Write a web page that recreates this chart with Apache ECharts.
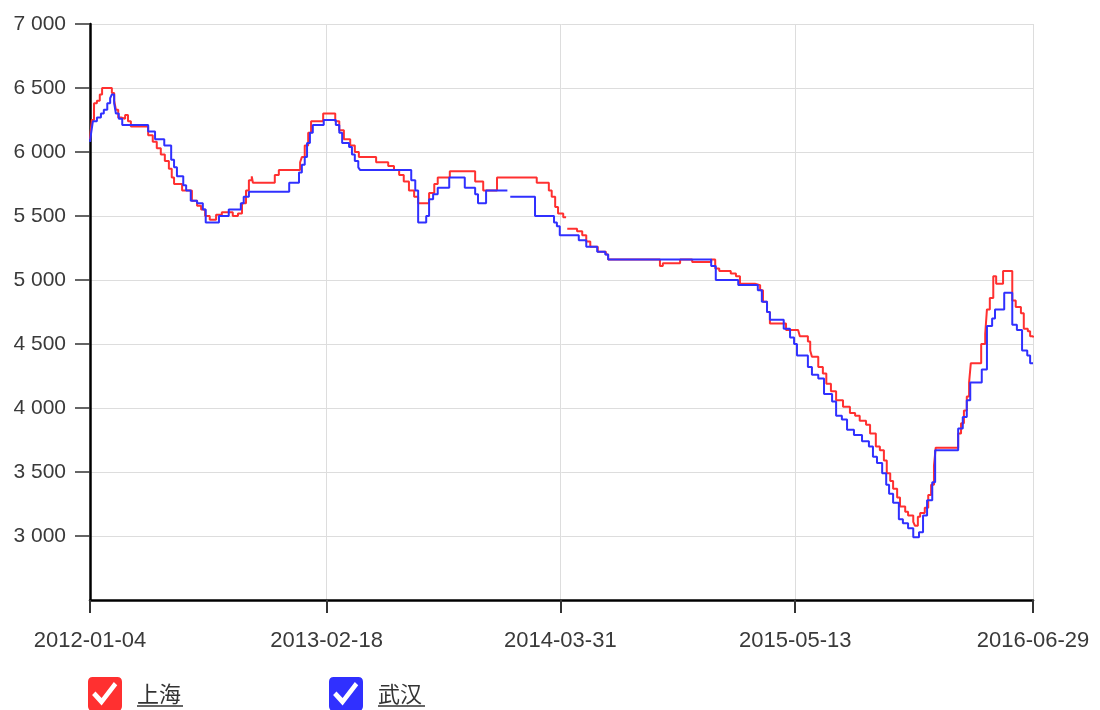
<!DOCTYPE html>
<html>
<head>
<meta charset="utf-8">
<script src="https://cdn.jsdelivr.net/npm/echarts@6/dist/echarts.min.js"></script>
<style>html,body{margin:0;padding:0;background:#fff}#chart{width:1100px;height:710px}</style>
</head>
<body>
<div id="chart"></div>
<script>
// ---- data ----
const startDate = '2012-01-04';
const endDate = '2016-06-29';
const xLabelDates = ['2012-01-04', '2013-02-18', '2014-03-31', '2015-05-13', '2016-06-29'];
const yTickValues = [3000, 3500, 4000, 4500, 5000, 5500, 6000, 6500, 7000];
const seriesNames = ['上海', '武汉'];

// days since startDate at which the price level changes, and the new level
const shDays = [0,3,7,12,17,21,38,42,45,49,54,61,66,71,101,109,116,123,130,137,142,146,160,177,186,193,200,208,219,229,248,257,264,271,276,281,283,321,328,365,368,373,379,384,405,426,433,441,452,460,467,497,518,528,537,545,554,563,570,589,598,604,625,669,683,707,776,797,802,808,813,822,825,827,829,846,855,862,869,882,896,900,990,995,1025,1046,1079,1086,1093,1113,1122,1129,1155,1164,1169,1176,1181,1209,1230,1233,1247,1251,1254,1265,1273,1279,1287,1296,1308,1320,1329,1337,1348,1355,1365,1372,1379,1384,1390,1395,1402,1407,1416,1421,1430,1433,1438,1442,1450,1456,1461,1466,1469,1508,1513,1518,1523,1527,1530,1548,1555,1558,1563,1569,1574,1586,1602,1608,1617,1622,1629,1633,1638];
const shPrices = [6100,6250,6380,6400,6450,6500,6460,6400,6330,6270,6260,6290,6240,6200,6130,6080,6030,5980,5930,5870,5800,5750,5700,5620,5580,5550,5500,5470,5510,5530,5500,5520,5600,5700,5780,5810,5760,5820,5860,5920,5960,6050,6150,6240,6300,6240,6170,6100,6050,6000,5960,5920,5890,5860,5820,5770,5700,5650,5600,5680,5750,5800,5850,5770,5700,5800,5760,5700,5650,5570,5520,5490,5490,null,5400,5380,5350,5300,5260,5220,5200,5160,5110,5130,5160,5140,5160,5090,5070,5050,5030,4970,4960,4920,4830,4750,4660,4610,4600,4560,4520,4450,4400,4320,4270,4190,4130,4060,4010,3960,3940,3900,3870,3800,3700,3670,3590,3490,3430,3370,3300,3230,3190,3160,3110,3080,3150,3180,3220,3320,3400,3550,3690,3800,3880,3980,4090,4200,4350,4500,4580,4770,4860,5030,4970,5070,4840,4790,4740,4620,4600,4560,4550];

const whDays = [0,2,5,12,19,24,30,35,38,42,45,50,56,101,113,129,141,146,151,162,167,175,186,196,201,224,241,262,267,276,346,363,368,373,377,382,387,406,427,433,438,450,455,460,466,469,558,565,570,584,589,596,604,624,651,669,674,688,723,725,730,773,806,811,816,849,862,881,895,900,1079,1087,1126,1160,1167,1176,1181,1205,1216,1223,1228,1247,1254,1265,1275,1289,1296,1306,1315,1327,1341,1353,1360,1367,1376,1383,1388,1395,1405,1412,1421,1430,1440,1447,1454,1463,1468,1508,1516,1523,1529,1549,1558,1567,1572,1588,1602,1610,1619,1628,1633,1638];
const whPrices = [6080,6150,6240,6270,6300,6330,6380,6420,6450,6380,6300,6260,6210,6160,6100,6050,5940,5880,5810,5740,5700,5620,5600,5550,5450,5500,5550,5600,5650,5690,5760,5840,5900,5960,6070,6150,6210,6250,6210,6150,6070,6040,5980,5930,5880,5860,5780,5700,5450,5500,5630,5670,5720,5800,5720,5670,5600,5700,5700,null,5650,5500,5450,5420,5350,5310,5260,5220,5200,5160,5110,5000,4960,4920,4830,4750,4690,4620,4550,4500,4410,4320,4260,4230,4110,4050,3940,3910,3830,3790,3740,3700,3620,3570,3490,3400,3330,3260,3130,3100,3060,2990,3030,3160,3280,3420,3670,3840,3930,4060,4200,4300,4640,4700,4770,4900,4650,4610,4450,4410,4350,4350];

// ---- helpers ----
const DAY = 86400000;
function parseDate(s) { const p = s.split('-').map(Number); return Date.UTC(p[0], p[1] - 1, p[2]); }
function pad(n) { return (n < 10 ? '0' : '') + n; }
const t0 = parseDate(startDate);
function dayOf(s) { return Math.round((parseDate(s) - t0) / DAY); }
function fmtDay(d) { const dt = new Date(t0 + Math.round(d) * DAY); return dt.getUTCFullYear() + '-' + pad(dt.getUTCMonth() + 1) + '-' + pad(dt.getUTCDate()); }
function build(days, prices) { return days.map((d, i) => [d, prices[i] == null ? '-' : prices[i]]); }
const xTicks = xLabelDates.map(dayOf);

const checkIcon = 'path://M14,0 L86,0 Q100,0 100,14 L100,86 Q100,100 86,100 L14,100 Q0,100 0,86 L0,14 Q0,0 14,0 Z M40,84 L86,24 L76,15 L40,62 L22,43 L12,53 Z';

const chart = echarts.init(document.getElementById('chart'), null, { renderer: 'canvas' });
chart.setOption({
  animation: false,
  backgroundColor: '#fff',
  grid: { left: 90, right: 67, top: 24, bottom: 110 },
  legend: {
    data: seriesNames,
    left: 88, top: 677, padding: 0,
    icon: checkIcon,
    itemWidth: 34, itemHeight: 34, itemGap: 148,
    textStyle: { fontSize: 22, color: '#333', fontFamily: 'Noto Sans CJK SC', padding: [0, 0, 0, 10] }
  },
  xAxis: {
    type: 'value',
    min: 0, max: dayOf(endDate),
    axisLine: { show: true, lineStyle: { color: '#000', width: 2.5 } },
    axisTick: { show: true, customValues: xTicks, length: 13, lineStyle: { color: '#333', width: 2 } },
    axisLabel: {
      customValues: xTicks, margin: 30, fontSize: 22, color: '#3a3a3a', fontFamily: 'Liberation Sans',
      formatter: function (v) { return fmtDay(v); }
    },
    splitLine: { show: true, lineStyle: { color: '#ddd', width: 1 } }
  },
  yAxis: {
    type: 'value', min: 2500, max: 7000, interval: 500,
    axisLine: { show: true, lineStyle: { color: '#000', width: 2.5 } },
    axisTick: { show: true, customValues: yTickValues, length: 15, lineStyle: { color: '#333', width: 1.5 } },
    axisLabel: {
      customValues: yTickValues, margin: 24, fontSize: 21, color: '#3a3a3a', fontFamily: 'Liberation Sans',
      formatter: function (v) { return String(v).replace(/\B(?=(\d{3})+(?!\d))/g, ' '); }
    },
    splitLine: { show: true, lineStyle: { color: '#ddd', width: 1 } }
  },
  series: [
    { name: seriesNames[0], type: 'line', step: 'end', showSymbol: false, symbol: 'none', connectNulls: false,
      color: '#ff3030', lineStyle: { width: 2, color: '#ff3030' }, data: build(shDays, shPrices) },
    { name: seriesNames[1], type: 'line', step: 'end', showSymbol: false, symbol: 'none', connectNulls: false,
      color: '#3030ff', lineStyle: { width: 2, color: '#3030ff' }, data: build(whDays, whPrices) }
  ],
  graphic: [
    { type: 'line', shape: { x1: 137, y1: 706, x2: 183, y2: 706 }, style: { stroke: '#333', lineWidth: 1.5 } },
    { type: 'line', shape: { x1: 378, y1: 706, x2: 425, y2: 706 }, style: { stroke: '#333', lineWidth: 1.5 } }
  ]
});
</script>
</body>
</html>
